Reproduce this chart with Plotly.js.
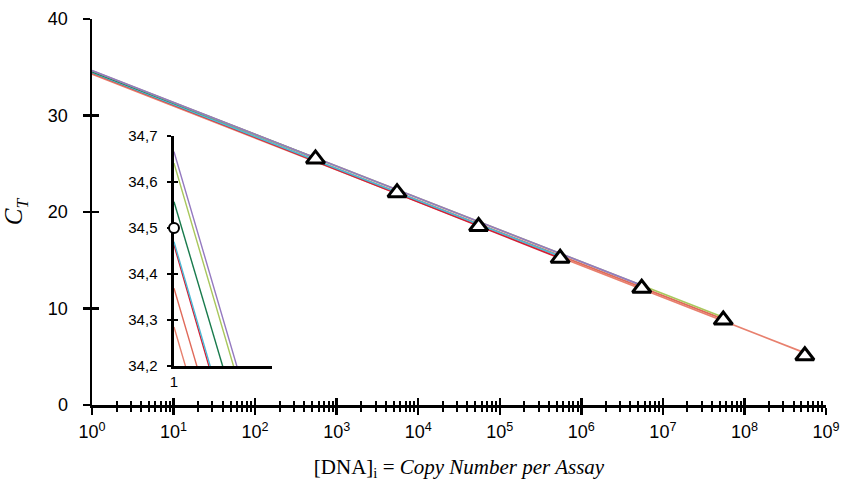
<!DOCTYPE html>
<html>
<head>
<meta charset="utf-8">
<script src="https://cdn.plot.ly/plotly-3.0.1.min.js"></script>
<style>html,body{margin:0;padding:0;background:#fff}#chart{width:841px;height:484px}</style>
</head>
<body>
<div id="chart"></div>
<script>
// Standard curve points (triangles): copy number per assay vs C_T
const stdCopies = [5.5e2, 5.5e3, 5.5e4, 5.5e5, 5.5e6, 5.5e7, 5.5e8];
const stdCt     = [25.5, 22.0, 18.5, 15.2, 12.1, 8.8, 5.1];

// Regression lines: C_T at 1 copy (intercept) and at the last standard used
const lineColors     = ['#e8806e', '#e06a5a', '#d41f35', '#4bbad6', '#187a4c', '#a9c75c', '#9479c0'];
const lineIntercepts = [34.285, 34.369, 34.463, 34.470, 34.557, 34.641, 34.666];
const lineEndCopies  = [5.5e8, 5.5e7, 5.5e5, 5.5e5, 5.5e2, 5.5e7, 5.5e6];
const lineEndCt      = [5.4, 8.9, 15.2, 15.4, 25.6, 9.1, 12.4];

// Inset highlighted point
const insetPointX = [1];
const insetPointY = [34.5];

// Axis tick labels
const decadeVals = [1, 1e1, 1e2, 1e3, 1e4, 1e5, 1e6, 1e7, 1e8, 1e9];
const decadeText = decadeVals.map((v, i) => '10<sup>' + i + '</sup>');
const minorVals = [];
for (let d = 0; d < 9; d++) for (let m = 2; m <= 9; m++) minorVals.push(m * Math.pow(10, d));

const traces = [];
for (let i = 0; i < lineColors.length; i++) {
  const xs = [1, lineEndCopies[i]];
  const ys = [lineIntercepts[i], lineEndCt[i]];
  traces.push({x: xs, y: ys, mode: 'lines', xaxis: 'x', yaxis: 'y',
    line: {color: lineColors[i], width: 1.7}, hoverinfo: 'skip', showlegend: false});
  traces.push({x: xs, y: ys, mode: 'lines', xaxis: 'x3', yaxis: 'y3',
    line: {color: lineColors[i], width: 1.4}, hoverinfo: 'skip', showlegend: false});
}
traces.push({x: stdCopies, y: stdCt, mode: 'markers', xaxis: 'x2', yaxis: 'y2', cliponaxis: false,
  marker: {symbol: 'triangle-up', size: 16, color: '#ffffff', line: {color: '#000', width: 3}},
  showlegend: false});
traces.push({x: insetPointX, y: insetPointY, mode: 'markers', xaxis: 'x4', yaxis: 'y4', cliponaxis: false,
  marker: {symbol: 'circle', size: 10, color: '#ffffff', line: {color: '#000', width: 2}},
  showlegend: false});

const tickFont = {family: 'Liberation Sans, Arial, sans-serif', size: 18, color: '#000'};
const insetFont = {family: 'Liberation Sans, Arial, sans-serif', size: 15, color: '#000'};
const insetX = [0.1117, 0.2452];
const insetY = [0.101, 0.697];

const layout = {
  width: 841, height: 484,
  margin: {l: 92, r: 15, t: 19, b: 79},
  paper_bgcolor: '#fff', plot_bgcolor: 'rgba(0,0,0,0)',
  separators: ',.',
  showlegend: false,
  xaxis: {
    type: 'log', range: [0, 9], domain: [0, 1], anchor: 'y',
    showline: true, linecolor: '#000', linewidth: 2.5, showgrid: false, zeroline: false,
    ticks: 'outside', ticklen: 7, tickwidth: 2.5, tickcolor: '#000',
    tickmode: 'array', tickvals: decadeVals, ticktext: decadeText, tickfont: tickFont,
    ticklabelstandoff: 2,
    minor: {ticks: 'outside', ticklen: 4, tickwidth: 2, tickcolor: '#000', tickmode: 'array', tickvals: minorVals, showgrid: false},
    title: {text: '[DNA]<sub>i</sub> = <i>Copy Number per Assay</i>', standoff: 18,
      font: {family: 'Liberation Serif, Times New Roman, serif', size: 21, color: '#000'}}
  },
  yaxis: {
    range: [0, 40], domain: [0, 1], anchor: 'x',
    showline: true, linecolor: '#000', linewidth: 2.5, showgrid: false, zeroline: false,
    ticks: 'outside', ticklen: 7, tickwidth: 2.5, tickcolor: '#000',
    tickmode: 'array', tickvals: [0, 10, 20, 30, 40], tickfont: tickFont,
    ticklabelstandoff: 11,
    title: {text: '<i>C<sub>T</sub></i>', standoff: 18,
      font: {family: 'Liberation Serif, Times New Roman, serif', size: 25, color: '#000'}}
  },
  xaxis2: {
    type: 'log', range: [0, 9], overlaying: 'x', anchor: 'y2', side: 'bottom',
    showline: false, showgrid: false, zeroline: false,
    ticks: 'inside', ticklen: 7, tickwidth: 2.5, tickcolor: '#000',
    tickmode: 'array', tickvals: decadeVals, showticklabels: false,
    minor: {ticks: 'inside', ticklen: 4, tickwidth: 2, tickcolor: '#000', tickmode: 'array', tickvals: minorVals, showgrid: false}
  },
  yaxis2: {
    range: [0, 40], overlaying: 'y', anchor: 'x2', side: 'left',
    showline: false, showgrid: false, zeroline: false,
    ticks: 'inside', ticklen: 7, tickwidth: 2.5, tickcolor: '#000',
    tickmode: 'array', tickvals: [0, 10, 20, 30, 40], showticklabels: false
  },
  xaxis3: {
    type: 'log', range: [0, 0.22], domain: insetX, anchor: 'y3', layer: 'below traces',
    showline: true, linecolor: '#000', linewidth: 2.5, showgrid: false, zeroline: false,
    ticks: '', tickmode: 'array', tickvals: [1], ticktext: ['1'], tickfont: insetFont
  },
  yaxis3: {
    range: [34.2, 34.7], domain: insetY, anchor: 'x3', layer: 'below traces',
    showline: true, linecolor: '#000', linewidth: 2.5, showgrid: false, zeroline: false,
    ticks: 'outside', ticklen: 4, tickwidth: 2.2, tickcolor: '#000',
    tickmode: 'linear', tick0: 34.2, dtick: 0.1, tickformat: '.1f', tickfont: insetFont,
    ticklabelstandoff: 7
  },
  xaxis4: {
    type: 'log', range: [0, 0.22], overlaying: 'x3', anchor: 'y4', layer: 'below traces',
    showline: false, showgrid: false, zeroline: false, ticks: '', showticklabels: false
  },
  yaxis4: {
    range: [34.2, 34.7], overlaying: 'y3', anchor: 'x4', side: 'left', layer: 'below traces',
    showline: false, showgrid: false, zeroline: false,
    ticks: 'inside', ticklen: 4, tickwidth: 2.2, tickcolor: '#000',
    tickmode: 'linear', tick0: 34.2, dtick: 0.1, showticklabels: false
  }
};

Plotly.newPlot('chart', traces, layout, {staticPlot: true, displayModeBar: false});
</script>
</body>
</html>
